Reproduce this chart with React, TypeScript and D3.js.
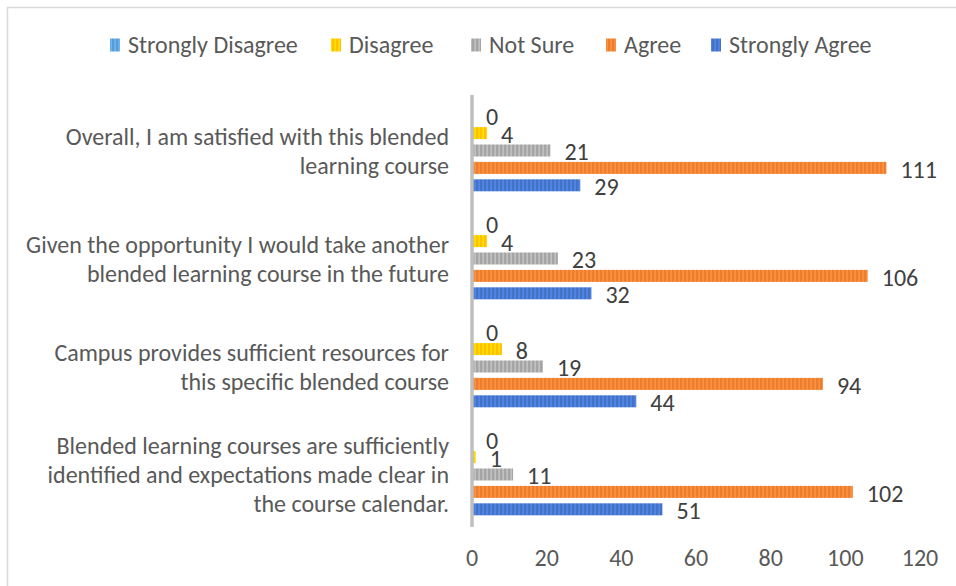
import { useEffect, useRef } from 'react';
import * as d3 from 'd3';

const categories = [
  ['Overall, I am satisfied with this blended', 'learning course'],
  ['Given the opportunity I would take another', 'blended learning course in the future'],
  ['Campus provides sufficient resources for', 'this specific blended course'],
  ['Blended learning courses are sufficiently', 'identified and expectations made clear in', 'the course calendar.'],
];
const seriesNames = ['Strongly Disagree', 'Disagree', 'Not Sure', 'Agree', 'Strongly Agree'];
const stronglyDisagree = [0, 0, 0, 0];
const disagree = [4, 4, 8, 1];
const notSure = [21, 23, 19, 11];
const agree = [111, 106, 94, 102];
const stronglyAgree = [29, 32, 44, 51];
const xTicks = [0, 20, 40, 60, 80, 100, 120];

const seriesColors = ['#5b9bd5', '#ffc000', '#a5a5a5', '#ed7d31', '#4472c4'];

export default function App() {
  const ref = useRef<SVGSVGElement>(null);

  useEffect(() => {
    const svg = d3.select(ref.current);
    svg.selectAll('*').remove();
    const font = 'Carlito, Lato, sans-serif';
    const fs = 24;
    const values = [stronglyDisagree, disagree, notSure, agree, stronglyAgree];

    // striped fills like the excel pattern
    const defs = svg.append('defs');
    seriesColors.forEach((c, i) => {
      const p = defs.append('pattern')
        .attr('id', 'stripe' + i)
        .attr('patternUnits', 'userSpaceOnUse')
        .attr('width', 4)
        .attr('height', 4);
      p.append('rect').attr('width', 4).attr('height', 4).attr('fill', c);
      p.append('rect').attr('x', 2.5).attr('width', 1.2).attr('height', 4)
        .attr('fill', d3.color(c)!.brighter(0.6).formatHex());
    });

    // outer border
    svg.append('rect')
      .attr('x', 7.5).attr('y', 7.5)
      .attr('width', 960).attr('height', 600)
      .attr('fill', 'none')
      .attr('stroke', '#d9d9d9')
      .attr('stroke-width', 1.5);

    const xScale = d3.scaleLinear().domain([0, 120]).range([472, 920]);
    const yOuter = d3.scaleBand<number>()
      .domain(d3.range(categories.length))
      .range([96.5, 528.5])
      .paddingInner(0.194)
      .paddingOuter(0.097);
    const yInner = d3.scaleBand<number>()
      .domain(d3.range(seriesNames.length))
      .range([0, yOuter.bandwidth()])
      .paddingInner(0.31)
      .paddingOuter(0.155);

    categories.forEach((lines, ci) => {
      const g = svg.append('g').attr('transform', `translate(0, ${yOuter(ci)})`);
      values.forEach((vals, si) => {
        const v = vals[ci];
        const y = yInner(si)!;
        g.append('rect')
          .attr('x', xScale(0))
          .attr('y', y)
          .attr('width', xScale(v) - xScale(0))
          .attr('height', yInner.bandwidth())
          .attr('fill', `url(#stripe${si})`);
        g.append('text')
          .attr('x', xScale(v) + 14)
          .attr('y', y + yInner.bandwidth() / 2 + 4)
          .attr('dominant-baseline', 'middle')
          .attr('font-family', font)
          .attr('font-size', fs)
          .attr('fill', '#404040')
          .text(v);
      });

      // category label
      const cy = yOuter(ci)! + yOuter.bandwidth() / 2 + 3;
      const lh = 29;
      lines.forEach((line, li) => {
        svg.append('text')
          .attr('x', 449)
          .attr('y', cy + (li - (lines.length - 1) / 2) * lh)
          .attr('text-anchor', 'end')
          .attr('dominant-baseline', 'middle')
          .attr('font-family', font)
          .attr('font-size', fs)
          .attr('fill', '#595959')
          .text(line);
      });
    });

    // vertical axis line
    svg.append('line')
      .attr('x1', xScale(0)).attr('x2', xScale(0))
      .attr('y1', 95).attr('y2', 527)
      .attr('stroke', '#bfbfbf')
      .attr('stroke-width', 3.5);

    // x tick labels
    svg.selectAll('.xtick')
      .data(xTicks)
      .join('text')
      .attr('class', 'xtick')
      .attr('x', d => xScale(d))
      .attr('y', 566)
      .attr('text-anchor', 'middle')
      .attr('font-family', font)
      .attr('font-size', fs)
      .attr('fill', '#595959')
      .text(d => d);

    // legend
    const legendX = [110, 331, 471, 606, 711];
    seriesNames.forEach((name, i) => {
      svg.append('rect')
        .attr('x', legendX[i]).attr('y', 38.5)
        .attr('width', 10).attr('height', 13)
        .attr('fill', `url(#stripe${i})`);
      svg.append('text')
        .attr('x', legendX[i] + 18)
        .attr('y', 47)
        .attr('dominant-baseline', 'middle')
        .attr('font-family', font)
        .attr('font-size', fs)
        .attr('fill', '#595959')
        .text(name);
    });
  }, []);

  return (
    <svg ref={ref} width={956} height={586} style={{ position: 'absolute', left: 0, top: 0, background: '#fff' }} />
  );
}
